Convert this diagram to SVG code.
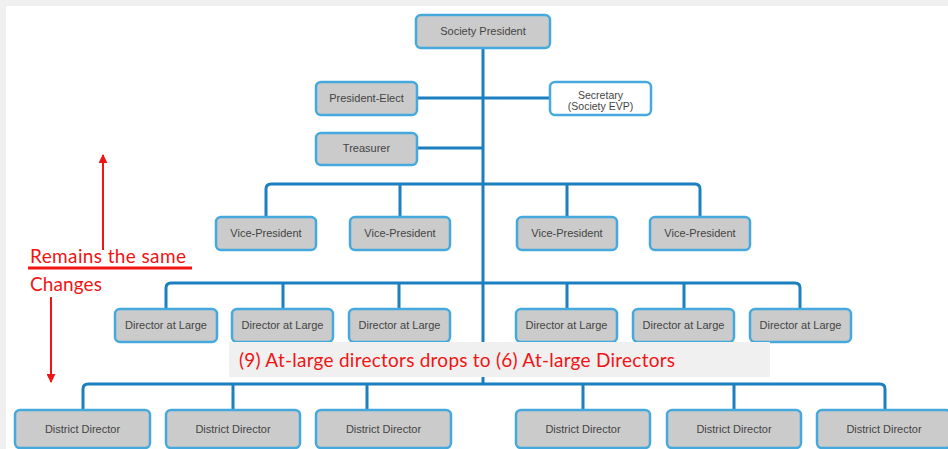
<svg xmlns="http://www.w3.org/2000/svg" width="948" height="449" viewBox="0 0 948 449">
<style>
.node rect{fill:#cbcbcb;stroke:#45a9de;stroke-width:2.5}
.node.white rect{fill:#ffffff}
.node text{font-family:"Liberation Sans",Arial,sans-serif;font-size:11px;fill:#444;text-anchor:middle}
.node text.sm{font-size:10.5px}
.conn path{fill:none;stroke:#1b7fc0;stroke-width:3;stroke-linejoin:round}
.ann{font-family:Lato,"Open Sans",sans-serif;font-size:19px;fill:#f01414}
</style>
<defs>
<marker id="ah" viewBox="0 0 10 10" refX="9" refY="5" markerWidth="4.5" markerHeight="4.5" markerUnits="strokeWidth" orient="auto"><path d="M0,0 L10,5 L0,10 z" fill="#f01414"/></marker>
</defs>
<rect x="0" y="0" width="948" height="449" fill="#ffffff"/>
<rect x="0" y="0" width="948" height="6" fill="#f0f0f0"/>
<rect x="0" y="0" width="6" height="449" fill="#f0f0f0"/>
<g class="conn">
<path d="M483,48 V384"/>
<path d="M417,98 H550"/>
<path d="M417,148 H483"/>
<path d="M266,217 V189 Q266,184 271,184 H695 Q700,184 700,189 V217"/>
<path d="M400,184 V217 M567,184 V217"/>
<path d="M166,309 V288 Q166,283 171,283 H795 Q800,283 800,288 V309"/>
<path d="M283,283 V309 M399,283 V309 M567,283 V309 M684,283 V309"/>
<path d="M83,410 V389 Q83,384 88,384 H880 Q885,384 885,389 V410"/>
<path d="M233,384 V410 M367,384 V410 M583,384 V410 M734,384 V410"/>
</g>
<g id="society-president" class="node"><rect x="416" y="15" width="134" height="33" rx="5"/><text x="483" y="35">Society President</text></g>
<g id="president-elect" class="node"><rect x="316" y="82" width="101" height="33" rx="5"/><text x="366.5" y="102">President-Elect</text></g>
<g id="secretary" class="node white"><rect x="550" y="82" width="101" height="33" rx="5"/><text class="sm" x="600.5" y="99">Secretary</text><text class="sm" x="600.5" y="110">(Society EVP)</text></g>
<g id="treasurer" class="node"><rect x="316" y="133" width="101" height="32" rx="5"/><text x="366.5" y="152">Treasurer</text></g>
<g id="vp1" class="node"><rect x="216" y="217" width="100" height="33" rx="5"/><text x="266" y="237">Vice-President</text></g>
<g id="vp2" class="node"><rect x="350" y="217" width="100" height="33" rx="5"/><text x="400" y="237">Vice-President</text></g>
<g id="vp3" class="node"><rect x="517" y="217" width="100" height="33" rx="5"/><text x="567" y="237">Vice-President</text></g>
<g id="vp4" class="node"><rect x="650" y="217" width="100" height="33" rx="5"/><text x="700" y="237">Vice-President</text></g>
<g id="dal1" class="node"><rect x="115" y="309" width="102" height="33" rx="5"/><text x="166" y="329">Director at Large</text></g>
<g id="dal2" class="node"><rect x="232" y="309" width="101" height="33" rx="5"/><text x="282.5" y="329">Director at Large</text></g>
<g id="dal3" class="node"><rect x="349" y="309" width="101" height="33" rx="5"/><text x="399.5" y="329">Director at Large</text></g>
<g id="dal4" class="node"><rect x="516" y="309" width="101" height="33" rx="5"/><text x="566.5" y="329">Director at Large</text></g>
<g id="dal5" class="node"><rect x="633" y="309" width="101" height="33" rx="5"/><text x="683.5" y="329">Director at Large</text></g>
<g id="dal6" class="node"><rect x="750" y="309" width="101" height="33" rx="5"/><text x="800.5" y="329">Director at Large</text></g>
<g id="dd1" class="node"><rect x="15" y="410" width="135" height="38" rx="5"/><text x="82.5" y="433">District Director</text></g>
<g id="dd2" class="node"><rect x="166" y="410" width="134" height="38" rx="5"/><text x="233" y="433">District Director</text></g>
<g id="dd3" class="node"><rect x="316" y="410" width="135" height="38" rx="5"/><text x="383.5" y="433">District Director</text></g>
<g id="dd4" class="node"><rect x="516" y="410" width="134" height="38" rx="5"/><text x="583" y="433">District Director</text></g>
<g id="dd5" class="node"><rect x="667" y="410" width="134" height="38" rx="5"/><text x="734" y="433">District Director</text></g>
<g id="dd6" class="node"><rect x="817" y="410" width="134" height="38" rx="5"/><text x="884" y="433">District Director</text></g>
<g id="banner">
<rect x="229" y="342" width="541" height="35" fill="#f0f0f0"/>
<text class="ann" x="239" y="367" textLength="436" lengthAdjust="spacing">(9) At-large directors drops to (6) At-large Directors</text>
</g>
<g id="annotation">
<line x1="103" y1="250" x2="103" y2="155" stroke="#f01414" stroke-width="2" marker-end="url(#ah)"/>
<text class="ann" x="30" y="263" textLength="156" lengthAdjust="spacing">Remains the same</text>
<line x1="28" y1="268" x2="192" y2="268" stroke="#f01414" stroke-width="3"/>
<text class="ann" x="30" y="291" textLength="72" lengthAdjust="spacing">Changes</text>
<line x1="51" y1="297" x2="51" y2="382" stroke="#f01414" stroke-width="2" marker-end="url(#ah)"/>
</g>
</svg>
